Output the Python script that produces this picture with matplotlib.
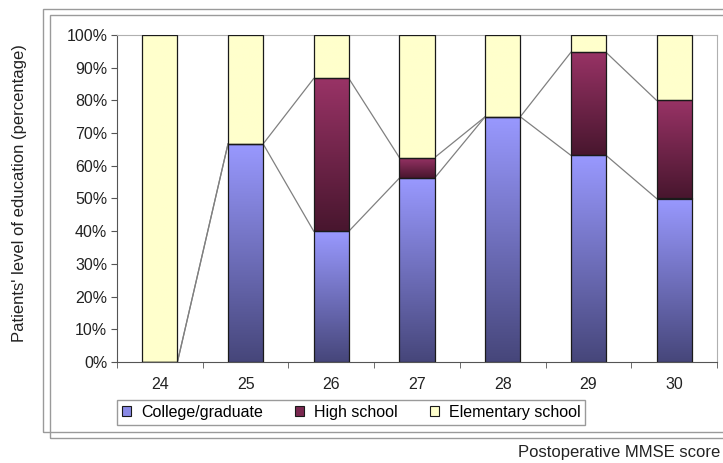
import matplotlib.pyplot as plt
import numpy as np
from matplotlib.colors import LinearSegmentedColormap
from matplotlib.patches import Patch, Rectangle

plt.rcParams['font.family'] = ['Liberation Sans', 'DejaVu Sans']

scores = ['24', '25', '26', '27', '28', '29', '30']
college = [0.0, 66.7, 40.0, 56.25, 75.0, 63.2, 50.0]
high_school = [0.0, 0.0, 46.7, 6.25, 0.0, 31.5, 30.0]
elementary = [100.0, 33.3, 13.3, 37.5, 25.0, 5.3, 20.0]

names = ['College/graduate', 'High school', 'Elementary school']
# (top colour, bottom colour) for each segment
shades = [('#9999ff', '#46467a'), ('#993366', '#48162e'), ('#ffffcc', '#ffffcc')]
flat = ['#8a8ae6', '#7a2850', '#ffffcc']

fig = plt.figure(figsize=(7.23, 4.63), dpi=100)

# double frame around the chart area
for x0, y0 in [(43, 9), (50, 15)]:
    fig.patches.append(Rectangle((x0 / 723, 1 - (y0 + 423) / 463), 1.0, 423 / 463,
                                 transform=fig.transFigure, fill=False,
                                 edgecolor='#9a9a9a', lw=1.0))

ax = fig.add_axes([117 / 723, 101 / 463, 600 / 723, 327 / 463])

x = np.arange(len(scores))
w = 0.41
series = [college, high_school, elementary]
bottom = np.zeros(len(scores))
tops = []
grad = np.linspace(1, 0, 256).reshape(-1, 1)
for vals, (c_top, c_bot) in zip(series, shades):
    vals = np.array(vals)
    cmap = LinearSegmentedColormap.from_list('g', [c_bot, c_top])
    bars = ax.bar(x, vals, w, bottom=bottom, facecolor='none',
                  edgecolor='#1a1a1a', lw=0.9, zorder=3)
    for b in bars:
        if b.get_height() <= 0:
            continue
        bx, by = b.get_x(), b.get_y()
        ax.imshow(grad, cmap=cmap, aspect='auto', zorder=2,
                  extent=(bx, bx + b.get_width(), by, by + b.get_height()))
    bottom = bottom + vals
    tops.append(bottom.copy())

# series lines joining the segment tops of neighbouring bars
for t in tops[:2]:
    for i in range(len(scores) - 1):
        ax.plot([x[i] + w / 2, x[i + 1] - w / 2], [t[i], t[i + 1]],
                color='#808080', lw=0.9, zorder=1)

fs = 11.5
ax.set_xlim(-0.5, len(scores) - 0.5)
ax.set_ylim(0, 100)
ax.set_yticks(np.arange(0, 101, 10))
ax.set_yticklabels([f'{v}%' for v in range(0, 101, 10)])
ax.set_xticks(x)
ax.set_xticklabels(scores)
ax.set_xticks(np.arange(-0.5, len(scores)), minor=True)
ax.tick_params(axis='x', which='major', length=0, pad=11, labelsize=fs, colors='#222222')
ax.tick_params(axis='x', which='minor', length=4, direction='out', color='#555555')
ax.tick_params(axis='y', length=4, direction='out', labelsize=fs, pad=3,
               colors='#555555', labelcolor='#222222')
for side in ['top', 'right']:
    ax.spines[side].set_color('#b0b0b0')
for side in ['left', 'bottom']:
    ax.spines[side].set_color('#555555')

handles = [Patch(facecolor=c, edgecolor='#1a1a1a', lw=0.8) for c in flat]
leg = fig.legend(handles, names, loc='upper left', ncol=3,
                 bbox_to_anchor=(117 / 723, 1 - 400 / 463),
                 fontsize=fs, frameon=True, fancybox=False,
                 edgecolor='#9a9a9a', framealpha=1, handlelength=0.6,
                 handleheight=0.6, handletextpad=0.6, borderaxespad=0,
                 columnspacing=2.0, borderpad=0.3)
leg.get_frame().set_linewidth(1.0)

fig.text(20 / 723, 1 - 193 / 463, "Patients' level of education (percentage)",
         rotation=90, ha='center', va='center', fontsize=fs + 0.5, color='#222222')
fig.text(720 / 723, 1 - 453 / 463, 'Postoperative MMSE score',
         ha='right', va='center', fontsize=fs + 0.5, color='#222222')

fig.savefig('out.png', dpi=100)
